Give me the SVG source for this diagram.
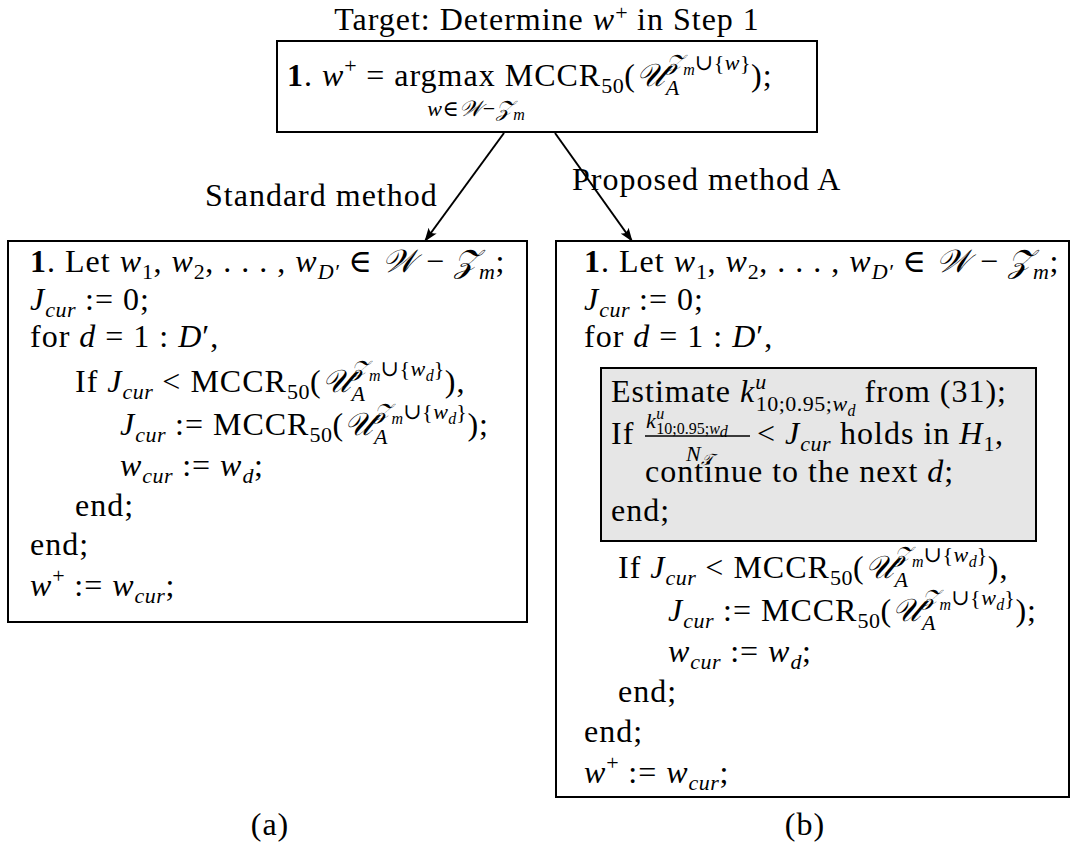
<svg xmlns="http://www.w3.org/2000/svg" width="1074" height="847" viewBox="0 0 1074 847">
<style>
.t{font-family:"Liberation Serif","DejaVu Serif",serif;font-size:32px;letter-spacing:1px;fill:#000}
.i{font-style:italic}
.b{font-weight:bold}
.s{font-size:22px;letter-spacing:0.5px}
.ss{font-size:16px;letter-spacing:0}
.c{font-family:"DejaVu Serif","Noto Sans",serif;font-style:italic}
.box{fill:#fff;stroke:#000;stroke-width:2}
.gray{fill:#e6e6e6;stroke:#000;stroke-width:2}
.edge{fill:none;stroke:#000;stroke-width:2}
</style>
<defs>
<marker id="ah" markerWidth="14" markerHeight="10" refX="13" refY="5" orient="auto" markerUnits="userSpaceOnUse">
<path d="M0,0 Q5,5 0,10 L14,5 Z" fill="#000"/>
</marker>
</defs>
<rect width="1074" height="847" fill="#fff"/>

<g id="title">
<text class="t" x="547" y="30" text-anchor="middle">Target: Determine <tspan class="i">w</tspan><tspan class="s" dy="-10">+</tspan><tspan dy="10"> in Step 1</tspan></text>
</g>

<g id="top">
<rect class="box" x="277" y="41" width="540" height="91"/>
<text class="t" x="287" y="86"><tspan class="b">1</tspan>. <tspan class="i">w</tspan><tspan class="s" dy="-13">+</tspan><tspan dy="13"> = argmax MCCR</tspan><tspan class="s" dy="7">50</tspan><tspan dy="-7">(</tspan><tspan class="c">𝒰</tspan><tspan class="s i" dy="9">A</tspan><tspan class="s c" dx="-14" dy="-25">𝒵</tspan><tspan class="ss i" dy="5">m</tspan><tspan class="s" dy="-5">∪{</tspan><tspan class="s i">w</tspan><tspan class="s">}</tspan><tspan dy="16">);</tspan></text>
<text class="t s" x="476" y="116" text-anchor="middle"><tspan class="i">w</tspan>∈<tspan class="c">𝒲</tspan>−<tspan class="c">𝒵</tspan><tspan class="ss i" dy="4">m</tspan></text>
</g>

<g id="connectors">
<line class="edge" x1="504" y1="133" x2="425" y2="241" marker-end="url(#ah)"/>
<line class="edge" x1="555" y1="133" x2="632" y2="241" marker-end="url(#ah)"/>
<text class="t" x="205" y="206">Standard method</text>
<text class="t" x="572" y="190">Proposed method A</text>
</g>

<g id="standard">
<rect class="box" x="8" y="241" width="519" height="381"/>
<text class="t" x="30" y="272"><tspan class="b">1</tspan>. Let <tspan class="i">w</tspan><tspan class="s" dy="7">1</tspan><tspan dy="-7">, </tspan><tspan class="i">w</tspan><tspan class="s" dy="7">2</tspan><tspan dy="-7">, . . . , </tspan><tspan class="i">w</tspan><tspan class="s i" dy="7">D′</tspan><tspan dy="-7"> ∈ </tspan><tspan class="c">𝒲</tspan> − <tspan class="c">𝒵</tspan><tspan class="s i" dy="7">m</tspan><tspan dy="-7">;</tspan></text>
<text class="t" x="30" y="310"><tspan class="i">J</tspan><tspan class="s i" dy="7">cur</tspan><tspan dy="-7"> := 0;</tspan></text>
<text class="t" x="30" y="347">for <tspan class="i">d</tspan> = 1 : <tspan class="i">D</tspan>′,</text>
<text class="t" x="75" y="392">If <tspan class="i">J</tspan><tspan class="s i" dy="7">cur</tspan><tspan dy="-7"> &lt; MCCR</tspan><tspan class="s" dy="7">50</tspan><tspan dy="-7">(</tspan><tspan class="c">𝒰</tspan><tspan class="s i" dy="9">A</tspan><tspan class="s c" dx="-14" dy="-25">𝒵</tspan><tspan class="ss i" dy="5">m</tspan><tspan class="s" dy="-5">∪{</tspan><tspan class="s i">w</tspan><tspan class="ss i" dy="5">d</tspan><tspan class="s" dy="-5">}</tspan><tspan dy="16">),</tspan></text>
<text class="t" x="120" y="435"><tspan class="i">J</tspan><tspan class="s i" dy="7">cur</tspan><tspan dy="-7"> := MCCR</tspan><tspan class="s" dy="7">50</tspan><tspan dy="-7">(</tspan><tspan class="c">𝒰</tspan><tspan class="s i" dy="9">A</tspan><tspan class="s c" dx="-14" dy="-25">𝒵</tspan><tspan class="ss i" dy="5">m</tspan><tspan class="s" dy="-5">∪{</tspan><tspan class="s i">w</tspan><tspan class="ss i" dy="5">d</tspan><tspan class="s" dy="-5">}</tspan><tspan dy="16">);</tspan></text>
<text class="t" x="120" y="476"><tspan class="i">w</tspan><tspan class="s i" dy="7">cur</tspan><tspan dy="-7"> := </tspan><tspan class="i">w</tspan><tspan class="s i" dy="7">d</tspan><tspan dy="-7">;</tspan></text>
<text class="t" x="75" y="516">end;</text>
<text class="t" x="30" y="555">end;</text>
<text class="t" x="30" y="596"><tspan class="i">w</tspan><tspan class="s" dy="-13">+</tspan><tspan dy="13"> := </tspan><tspan class="i">w</tspan><tspan class="s i" dy="7">cur</tspan><tspan dy="-7">;</tspan></text>
</g>

<g id="proposed">
<rect class="box" x="556" y="241" width="513" height="556"/>
<text class="t" x="584" y="272"><tspan class="b">1</tspan>. Let <tspan class="i">w</tspan><tspan class="s" dy="7">1</tspan><tspan dy="-7">, </tspan><tspan class="i">w</tspan><tspan class="s" dy="7">2</tspan><tspan dy="-7">, . . . , </tspan><tspan class="i">w</tspan><tspan class="s i" dy="7">D′</tspan><tspan dy="-7"> ∈ </tspan><tspan class="c">𝒲</tspan> − <tspan class="c">𝒵</tspan><tspan class="s i" dy="7">m</tspan><tspan dy="-7">;</tspan></text>
<text class="t" x="584" y="310"><tspan class="i">J</tspan><tspan class="s i" dy="7">cur</tspan><tspan dy="-7"> := 0;</tspan></text>
<text class="t" x="584" y="347">for <tspan class="i">d</tspan> = 1 : <tspan class="i">D</tspan>′,</text>
<text class="t" x="618" y="578">If <tspan class="i">J</tspan><tspan class="s i" dy="7">cur</tspan><tspan dy="-7"> &lt; MCCR</tspan><tspan class="s" dy="7">50</tspan><tspan dy="-7">(</tspan><tspan class="c">𝒰</tspan><tspan class="s i" dy="9">A</tspan><tspan class="s c" dx="-14" dy="-25">𝒵</tspan><tspan class="ss i" dy="5">m</tspan><tspan class="s" dy="-5">∪{</tspan><tspan class="s i">w</tspan><tspan class="ss i" dy="5">d</tspan><tspan class="s" dy="-5">}</tspan><tspan dy="16">),</tspan></text>
<text class="t" x="668" y="621"><tspan class="i">J</tspan><tspan class="s i" dy="7">cur</tspan><tspan dy="-7"> := MCCR</tspan><tspan class="s" dy="7">50</tspan><tspan dy="-7">(</tspan><tspan class="c">𝒰</tspan><tspan class="s i" dy="9">A</tspan><tspan class="s c" dx="-14" dy="-25">𝒵</tspan><tspan class="ss i" dy="5">m</tspan><tspan class="s" dy="-5">∪{</tspan><tspan class="s i">w</tspan><tspan class="ss i" dy="5">d</tspan><tspan class="s" dy="-5">}</tspan><tspan dy="16">);</tspan></text>
<text class="t" x="668" y="662"><tspan class="i">w</tspan><tspan class="s i" dy="7">cur</tspan><tspan dy="-7"> := </tspan><tspan class="i">w</tspan><tspan class="s i" dy="7">d</tspan><tspan dy="-7">;</tspan></text>
<text class="t" x="618" y="702">end;</text>
<text class="t" x="584" y="742">end;</text>
<text class="t" x="584" y="783"><tspan class="i">w</tspan><tspan class="s" dy="-13">+</tspan><tspan dy="13"> := </tspan><tspan class="i">w</tspan><tspan class="s i" dy="7">cur</tspan><tspan dy="-7">;</tspan></text>
</g>

<g id="bound-check">
<rect class="gray" x="601" y="368" width="435" height="173"/>
<text class="t" x="611" y="402">Estimate <tspan class="i">k</tspan><tspan class="s i" dy="-13">u</tspan><tspan class="s" dx="-11" dy="22">10;0.95;</tspan><tspan class="s i">w</tspan><tspan class="ss i" dy="5">d</tspan><tspan dy="-14"> from (31);</tspan></text>
<text class="t" x="611" y="444">If</text>
<text class="t s" x="646" y="428"><tspan class="i">k</tspan><tspan class="ss i" dy="-9">u</tspan><tspan class="ss" dx="-8" dy="15">10;0.95;</tspan><tspan class="ss i">w</tspan><tspan class="ss i" dy="3" font-size="12">d</tspan></text>
<line x1="645" y1="436" x2="750" y2="436" stroke="#000" stroke-width="1.5"/>
<text class="t s" x="686" y="461"><tspan class="i">N</tspan><tspan class="ss i" dy="4">𝒯</tspan></text>
<text class="t" x="757" y="444">&lt; <tspan class="i">J</tspan><tspan class="s i" dy="7">cur</tspan><tspan dy="-7"> holds in </tspan><tspan class="i">H</tspan><tspan class="s" dy="7">1</tspan><tspan dy="-7">,</tspan></text>
<text class="t" x="645" y="482">continue to the next <tspan class="i">d</tspan>;</text>
<text class="t" x="611" y="521">end;</text>
</g>

<g id="captions">
<text class="t" x="270" y="835" text-anchor="middle">(a)</text>
<text class="t" x="805" y="835" text-anchor="middle">(b)</text>
</g>
</svg>
